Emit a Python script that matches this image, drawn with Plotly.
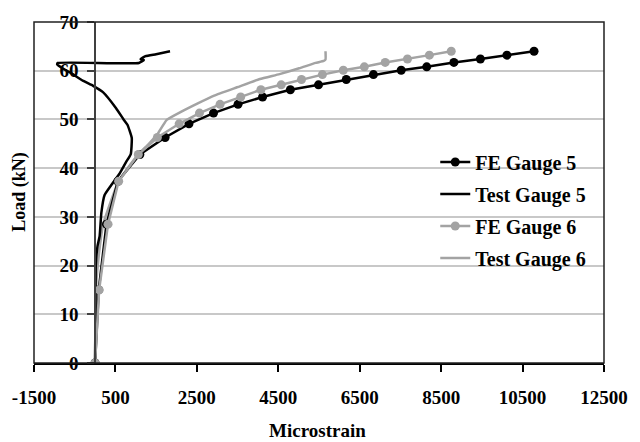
import plotly.graph_objects as go

# ---- data ----
fe_load = [0, 15, 28.5, 37.3, 42.8, 46.3, 49.1, 51.3, 53.1, 54.6, 56.1, 57.1,
           58.2, 59.2, 60.1, 60.8, 61.7, 62.4, 63.2, 64.0]
fe5_strain = [0, 90, 280, 560, 1100, 1720, 2306, 2909, 3511, 4114, 4796, 5488,
              6170, 6837, 7519, 8146, 8813, 9464, 10115, 10782]
fe6_strain = [0, 100, 318, 579, 1061, 1530, 2065, 2564, 3070, 3576, 4073, 4572,
              5070, 5584, 6097, 6613, 7126, 7673, 8211, 8748]

t5_strain = [0, 10, 17, 60, 113, 154, 234, 395, 595, 757, 877, 901, 795, 700,
             516, 193, -48, -289, -608, -800, -930, -915, 1077, 1198, 1118,
             1239, 1500, 1841]
t5_load = [0, 10, 20, 24, 26.1, 30.8, 34.5, 36.5, 38.8, 41.2, 42.9, 46.2, 48.9,
           50.0, 52.3, 55.6, 56.9, 57.9, 59.6, 60.5, 61.3, 61.6, 61.6, 62.2,
           62.4, 63.0, 63.4, 64.0]

t6_strain = [0, 20, 90, 200, 380, 560, 800, 1060, 1321, 1535, 1760, 2121, 2523,
             2926, 3487, 4049, 4531, 5013, 5415, 5616, 5660, 5660]
t6_load = [0, 15, 22, 28.5, 33, 37, 40, 42.8, 45, 47, 49.9, 51.6, 53.3, 54.9,
           56.6, 58.3, 59.3, 60.5, 61.6, 62.0, 62.3, 64.0]

x_ticks = [-1500, 500, 2500, 4500, 6500, 8500, 10500, 12500]
y_ticks = [0, 10, 20, 30, 40, 50, 60, 70]

BLACK = "#000000"
GRAY = "#A3A3A3"
FONT = "Liberation Serif"


def b(s):
    return "<b>" + s + "</b>"


fig = go.Figure()
fig.add_trace(go.Scatter(x=t6_strain, y=t6_load, mode="lines", name=b("Test Gauge 6"),
                         line=dict(color=GRAY, width=2.5, shape="spline", smoothing=0.4),
                         legendgroup="d", legendrank=4))
fig.add_trace(go.Scatter(x=t5_strain, y=t5_load, mode="lines", name=b("Test Gauge 5"),
                         line=dict(color=BLACK, width=2.5, shape="spline", smoothing=0.4),
                         legendgroup="b", legendrank=2))
fig.add_trace(go.Scatter(x=fe5_strain, y=fe_load, mode="lines+markers", name=b("FE Gauge 5"),
                         line=dict(color=BLACK, width=2.5),
                         marker=dict(color=BLACK, size=9), legendgroup="a", legendrank=1))
fig.add_trace(go.Scatter(x=fe6_strain, y=fe_load, mode="lines+markers", name=b("FE Gauge 6"),
                         line=dict(color=GRAY, width=2.5),
                         marker=dict(color=GRAY, size=9), legendgroup="c", legendrank=3))

fig.update_layout(
    width=640, height=442,
    margin=dict(l=33, r=26, t=15, b=79),
    paper_bgcolor="white", plot_bgcolor="white",
    font=dict(family=FONT, size=18, color="black", weight="bold"),
    showlegend=True,
    legend=dict(x=(442 - 33) / 581, y=(363 - 138) / 348, xanchor="left", yanchor="top",
                bgcolor="rgba(0,0,0,0)", traceorder="grouped", tracegroupgap=3,
                font=dict(family=FONT, size=20, color="black", weight="bold")),
    xaxis=dict(range=[-1500, 12500], tickvals=x_ticks, ticktext=[b(str(v)) for v in x_ticks],
               showgrid=False, zeroline=False, showline=True, linecolor=BLACK, linewidth=1.5,
               ticks="outside", ticklen=7, tickwidth=1.5, tickcolor=BLACK,
               tickfont=dict(family=FONT, size=19, weight="bold", color="black"),
               ticklabelstandoff=9),
    yaxis=dict(range=[0, 70], tickvals=y_ticks, ticktext=[b(str(v)) for v in y_ticks],
               anchor="free", position=1500 / 14000,
               showgrid=True, gridcolor="#C8C8C8", gridwidth=1.5, zeroline=False,
               showline=True, linecolor="#404040", linewidth=1.5,
               ticks="outside", ticklen=7, tickwidth=1.5, tickcolor="#404040",
               tickfont=dict(family=FONT, size=19, weight="bold", color="black"),
               ticklabelstandoff=5),
    shapes=[dict(type="rect", xref="paper", yref="paper", x0=0, x1=1, y0=0, y1=1,
                 line=dict(color="#202020", width=1.5), layer="above")],
    annotations=[
        dict(text=b("Load (kN)"), xref="paper", yref="paper", x=-15 / 581, y=(363 - 188) / 348,
             textangle=-90, showarrow=False, xanchor="center", yanchor="middle",
             font=dict(family=FONT, size=18)),
        dict(text=b("Microstrain"), xref="paper", yref="paper", x=(322 - 33) / 581, y=-(432 - 363) / 348,
             showarrow=False, xanchor="center", yanchor="middle",
             font=dict(family=FONT, size=19)),
    ],
)

fig.write_html("out.html")
